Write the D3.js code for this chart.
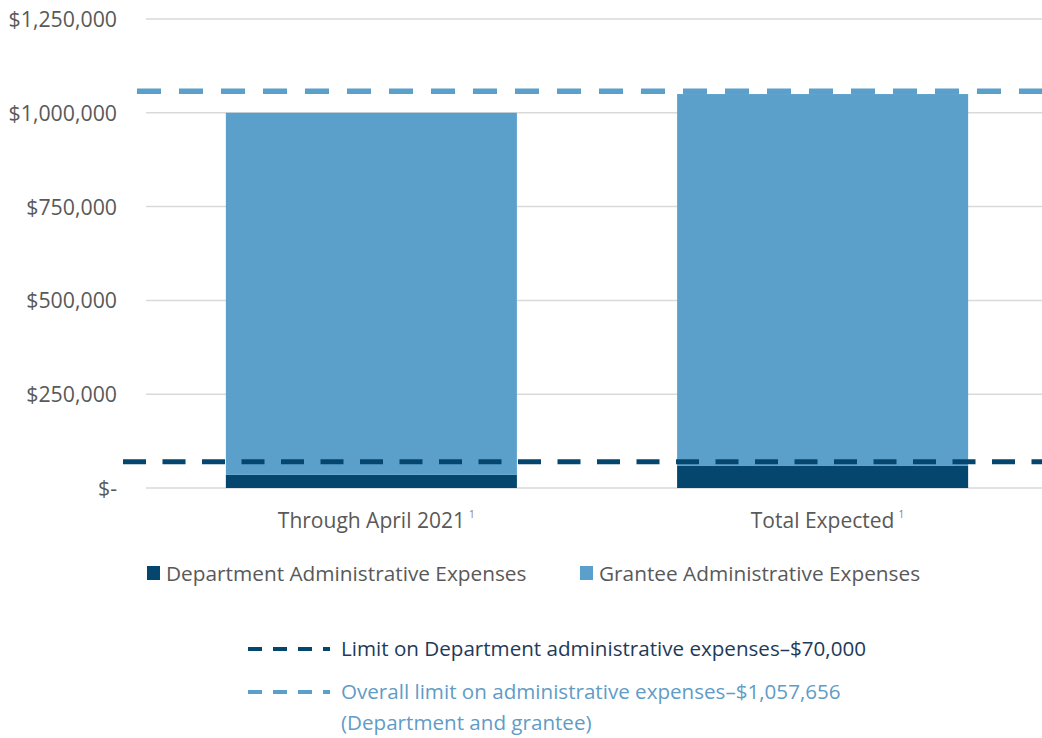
<!DOCTYPE html>
<html>
<head>
<meta charset="utf-8">
<script src="https://cdn.jsdelivr.net/npm/d3@7"></script>
<style>
  body { margin: 0; background: #fff; }
  svg { display: block; font-family: "Open Sans", Lato, sans-serif; }
</style>
</head>
<body>
<svg id="chart" width="1042" height="738"></svg>
<script>
// Categories and stacked series values (US dollars)
const categories = ["Through April 2021", "Total Expected"];
const departmentExpenses = [35000, 60000];
const granteeExpenses = [965000, 990000];
const seriesNames = ["Department Administrative Expenses", "Grantee Administrative Expenses"];

// Spending limits shown as dashed reference lines
const departmentLimit = 70000;
const overallLimit = 1057656;

const yTicks = [0, 250000, 500000, 750000, 1000000, 1250000];

const colors = { department: "#05466f", grantee: "#5ba0cb" };
const font = "'Open Sans', Lato, sans-serif";

const svg = d3.select("#chart");

const x = d3.scaleBand().domain(categories).range([146, 1048]).paddingInner(0.355).paddingOuter(0.177);
const y = d3.scaleLinear().domain([0, 1250000]).range([488, 19]);

// Gridlines
svg.append("g").selectAll("line").data(yTicks).join("line")
  .attr("x1", 146).attr("x2", 1042)
  .attr("y1", d => y(d)).attr("y2", d => y(d))
  .attr("stroke", "#d9d9d9").attr("stroke-width", 1.5);

// Y axis labels
const fmt = d3.format(",");
const yAxis = d3.axisLeft(y).tickValues(yTicks).tickSize(0).tickPadding(0)
  .tickFormat(d => d === 0 ? "$-" : "$" + fmt(d));
svg.append("g").attr("transform", "translate(117,0)").call(yAxis)
  .call(g => g.select(".domain").remove())
  .call(g => g.selectAll("text").attr("font-size", 21.3).attr("fill", "#595959")
    .attr("font-family", font).attr("dy", "0.35em"));

// Stacked bars
const rows = categories.map((c, i) => ({ category: c, department: departmentExpenses[i], grantee: granteeExpenses[i] }));
const stack = d3.stack().keys(["department", "grantee"])(rows);
svg.append("g").selectAll("g").data(stack).join("g")
  .attr("fill", d => colors[d.key])
  .selectAll("rect").data(d => d).join("rect")
  .attr("x", d => x(d.data.category))
  .attr("width", x.bandwidth())
  .attr("y", d => y(d[1]))
  .attr("height", d => y(d[0]) - y(d[1]));

// Limit lines
svg.append("line")
  .attr("x1", 123).attr("x2", 1042)
  .attr("y1", y(departmentLimit)).attr("y2", y(departmentLimit))
  .attr("stroke", colors.department).attr("stroke-width", 5)
  .attr("stroke-dasharray", "23 16.5");
svg.append("line")
  .attr("x1", 137).attr("x2", 1042)
  .attr("y1", y(overallLimit)).attr("y2", y(overallLimit))
  .attr("stroke", colors.grantee).attr("stroke-width", 5.5)
  .attr("stroke-dasharray", "24 18");

// Category labels, each followed by a superscript footnote mark
const catGroups = svg.append("g").selectAll("g").data(categories).join("g");
catGroups.append("text")
  .attr("class", "cat")
  .attr("x", d => x(d) + x.bandwidth() / 2)
  .attr("y", 528)
  .attr("text-anchor", "middle")
  .attr("font-size", 21).attr("fill", "#595959")
  .text(d => d);
catGroups.each(function (d) {
  const g = d3.select(this);
  const w = g.select("text.cat").node().getComputedTextLength();
  g.append("text")
    .attr("x", x(d) + x.bandwidth() / 2 + w / 2 + 4)
    .attr("y", 518)
    .attr("font-size", 10).attr("fill", "#7f7f7f")
    .text("1");
});

// Series legend
const legend1 = [
  { name: seriesNames[0], color: colors.department, x: 147 },
  { name: seriesNames[1], color: colors.grantee, x: 580 }
];
const lg = svg.append("g").selectAll("g").data(legend1).join("g")
  .attr("transform", d => `translate(${d.x},566)`);
lg.append("rect").attr("width", 13).attr("height", 14).attr("fill", d => d.color);
lg.append("text").attr("x", 19).attr("y", 14.5).attr("font-size", 20.8).attr("fill", "#595959")
  .text(d => d.name);

// Limit legend
const legend2 = [
  { lines: ["Limit on Department administrative expenses\u2013$" + fmt(departmentLimit)], color: colors.department, text: "#1e3a58", y: 649 },
  { lines: ["Overall limit on administrative expenses\u2013$" + fmt(overallLimit), "(Department and grantee)"], color: colors.grantee, text: "#5f9cc6", y: 692 }
];
const lg2 = svg.append("g").selectAll("g").data(legend2).join("g")
  .attr("transform", d => `translate(0,${d.y})`);
lg2.append("line").attr("x1", 248).attr("x2", 330).attr("y1", 0).attr("y2", 0)
  .attr("stroke", d => d.color).attr("stroke-width", 4).attr("stroke-dasharray", "14 11");
lg2.append("text").attr("font-size", 20.6).attr("fill", d => d.text)
  .selectAll("tspan").data(d => d.lines).join("tspan")
  .attr("x", 341).attr("y", (d, i) => 7 + i * 31)
  .text(d => d);
</script>
</body>
</html>
